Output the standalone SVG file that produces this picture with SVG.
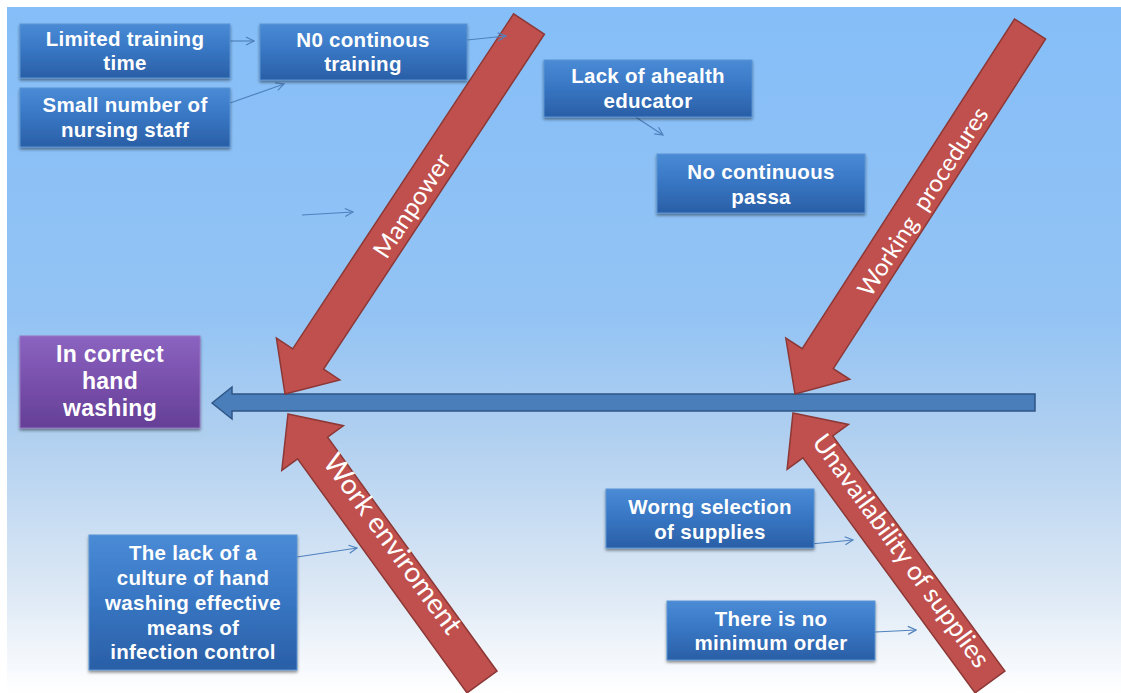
<svg xmlns="http://www.w3.org/2000/svg" width="1121" height="693" viewBox="0 0 1121 693">
<defs>
<linearGradient id="bg" x1="0" y1="0" x2="0" y2="1">
<stop offset="0" stop-color="#85BEF8"/>
<stop offset="0.45" stop-color="#93C3F4"/>
<stop offset="0.62" stop-color="#AFCFF0"/>
<stop offset="0.85" stop-color="#DCE8F5"/>
<stop offset="1" stop-color="#FFFFFF"/>
</linearGradient>
<linearGradient id="boxg" x1="0" y1="0" x2="0" y2="1">
<stop offset="0" stop-color="#4A8BD6"/>
<stop offset="0.5" stop-color="#3775C2"/>
<stop offset="1" stop-color="#2A5FA6"/>
</linearGradient>
<linearGradient id="purg" x1="0" y1="0" x2="0" y2="1">
<stop offset="0" stop-color="#8B63C0"/>
<stop offset="0.5" stop-color="#7850AC"/>
<stop offset="1" stop-color="#653F96"/>
</linearGradient>
<filter id="sh" x="-10%" y="-10%" width="120%" height="130%">
<feDropShadow dx="0" dy="2" stdDeviation="1.5" flood-color="#000" flood-opacity="0.45"/>
</filter>
<marker id="ah" viewBox="0 0 10 10" refX="9" refY="5" markerWidth="10" markerHeight="10" markerUnits="userSpaceOnUse" orient="auto">
<path d="M1,1 L9,5 L1,9" fill="none" stroke="#4F81BD" stroke-width="1.2"/>
</marker>
<style>
.box{fill:url(#boxg);stroke:#5B93D3;stroke-width:1;filter:url(#sh)}
.pbox{fill:url(#purg);stroke:#9676C4;stroke-width:1;filter:url(#sh)}
.bt{font-family:"Liberation Sans",Arial,sans-serif;font-weight:bold;font-size:20.5px;letter-spacing:0.3px;fill:#FFFFFF;text-anchor:middle}
.pt{font-family:"Liberation Sans",Arial,sans-serif;font-weight:bold;font-size:23px;letter-spacing:0.3px;fill:#FFFFFF;text-anchor:middle}
.red{fill:#C0504D;stroke:#8C3836;stroke-width:1.5;stroke-linejoin:miter}
.rt{font-family:Lato,"Open Sans","DejaVu Sans",sans-serif;font-size:25px;fill:#FFFFFF;text-anchor:middle;dominant-baseline:central}
.con{stroke:#4F81BD;stroke-width:1.2;fill:none;marker-end:url(#ah)}
</style>
</defs>
<rect x="0" y="0" width="1121" height="693" fill="#FFFFFF"/>
<rect x="7" y="7" width="1114" height="686" fill="url(#bg)"/>

<g id="spine">
<polygon points="212,403 232,387 232,394 1035,394 1035,411 232,411 232,419" fill="#4A7EBB" stroke="#2F5686" stroke-width="1.5"/>
</g>

<g id="manpower">
<polygon class="red" points="285,394 339.8,379.9 323.6,369.1 544.4,34.2 513.6,13.8 292.7,348.8 276.4,338"/>
<text class="rt" transform="translate(411,205) rotate(-56.6)">Manpower</text>
</g>
<g id="working-procedures">
<polygon class="red" points="795,394 849.7,379.3 833.3,368.7 1045.6,39 1014.5,19 802.2,348.7 785.8,338.1"/>
<text class="rt" style="font-size:24px" transform="translate(922,201) rotate(-57.2)" xml:space="preserve">Working  procedures</text>
</g>
<g id="work-enviroment">
<polygon class="red" points="288,414 343.4,425.7 327.6,437.2 497,671.2 467,692.9 297.6,458.9 281.8,470.3"/>
<text class="rt" style="font-size:28px" transform="translate(394,543) rotate(54.1)">Work enviroment</text>
</g>
<g id="unavailability">
<polygon class="red" points="793,413 848.5,424.4 832.7,436 1004.9,671.1 975.1,692.9 802.9,457.8 787.1,469.3"/>
<text class="rt" style="font-size:26px" transform="translate(902,550) rotate(54)">Unavailability of supplies</text>
</g>

<g id="connectors">
<line class="con" x1="230" y1="41" x2="254" y2="41"/>
<line class="con" x1="230" y1="103" x2="284" y2="84"/>
<line class="con" x1="467" y1="40" x2="506" y2="36"/>
<line class="con" x1="628" y1="112" x2="663" y2="135"/>
<line class="con" x1="302" y1="215" x2="353" y2="212"/>
<line class="con" x1="297" y1="557" x2="357" y2="548"/>
<line class="con" x1="800" y1="545" x2="853" y2="540"/>
<line class="con" x1="875" y1="632" x2="916" y2="630"/>
</g>

<g id="limited-training-time">
<rect class="box" x="20" y="24" width="210" height="54"/>
<text class="bt" x="125" y="45.5">Limited training<tspan x="125" dy="24">time</tspan></text>
</g>
<g id="small-number">
<rect class="box" x="20" y="88" width="210" height="59"/>
<text class="bt" x="125" y="111.5">Small number of<tspan x="125" dy="25">nursing staff</tspan></text>
</g>
<g id="n0-continous-training">
<rect class="box" x="260" y="24" width="207" height="56"/>
<text class="bt" x="363" y="46.5">N0 continous<tspan x="363" dy="24">training</tspan></text>
</g>
<g id="lack-health-educator">
<rect class="box" x="544" y="60" width="208" height="57"/>
<text class="bt" x="648" y="82.5">Lack of ahealth<tspan x="648" dy="25">educator</tspan></text>
</g>
<g id="no-continuous-passa">
<rect class="box" x="657" y="154" width="208" height="59"/>
<text class="bt" x="761" y="178.5">No continuous<tspan x="761" dy="25">passa</tspan></text>
</g>
<g id="effect">
<rect class="pbox" x="20" y="336" width="180" height="92"/>
<text class="pt" x="110" y="362">In correct<tspan x="110" dy="27">hand</tspan><tspan x="110" dy="27">washing</tspan></text>
</g>
<g id="lack-culture">
<rect class="box" x="89" y="535" width="208" height="135"/>
<text class="bt" x="193" y="559.5">The lack of a<tspan x="193" dy="25">culture of hand</tspan><tspan x="193" dy="25">washing effective</tspan><tspan x="193" dy="25">means of</tspan><tspan x="193" dy="24">infection control</tspan></text>
</g>
<g id="worng-selection">
<rect class="box" x="606" y="489" width="208" height="59"/>
<text class="bt" x="710" y="513.5">Worng selection<tspan x="710" dy="25">of supplies</tspan></text>
</g>
<g id="no-minimum-order">
<rect class="box" x="667" y="601" width="208" height="59"/>
<text class="bt" x="771" y="625.5">There is no<tspan x="771" dy="24">minimum order</tspan></text>
</g>
</svg>
